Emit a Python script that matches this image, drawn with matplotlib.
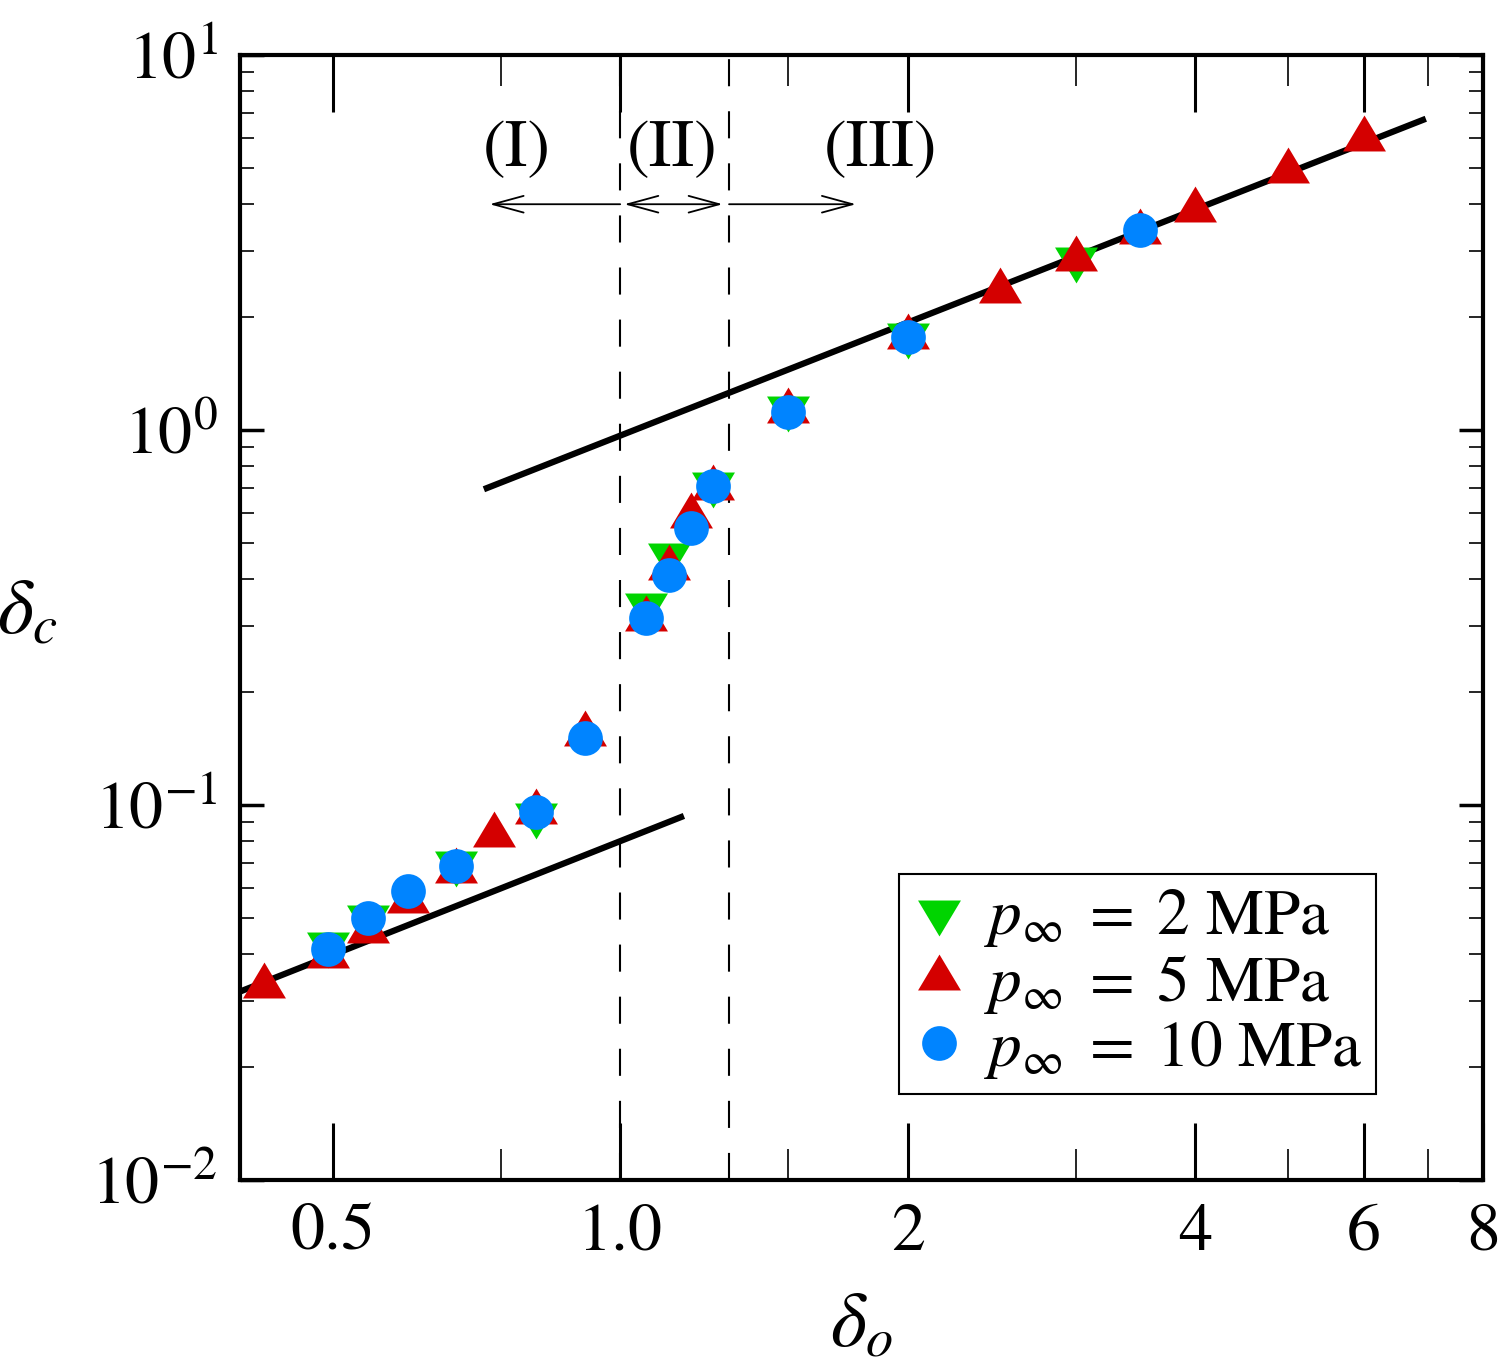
import matplotlib
matplotlib.use("Agg")
import matplotlib.pyplot as plt
from matplotlib.path import Path
import numpy as np

plt.rcParams['font.family'] = ['STIXGeneral', 'DejaVu Serif']
plt.rcParams['mathtext.fontset'] = 'stix'

# ---- data ----
x_2mpa = [0.495, 0.544, 0.673, 0.817, 1.065, 1.125, 1.251, 1.5, 2.0, 3.0]
y_2mpa = [0.0426, 0.0503, 0.0700, 0.0940, 0.341, 0.464, 0.718, 1.145, 1.79, 2.86]

x_5mpa = [0.424, 0.495, 0.544, 0.599, 0.673, 0.738, 0.817, 0.919, 1.065, 1.125,
          1.186, 1.251, 1.5, 2.0, 2.5, 3.0, 3.5, 4.0, 5.0, 6.0]
y_5mpa = [0.0329, 0.0396, 0.0461, 0.0555, 0.0667, 0.0832, 0.0958, 0.1546, 0.313, 0.4285,
          0.590, 0.700, 1.124, 1.77, 2.35, 2.86, 3.37, 3.86, 4.91, 5.97]

x_10mpa = [0.495, 0.544, 0.599, 0.673, 0.817, 0.919, 1.065, 1.125, 1.186, 1.251, 1.5, 2.0, 3.5]
y_10mpa = [0.0413, 0.0500, 0.0590, 0.0688, 0.0958, 0.1509, 0.315, 0.4105, 0.548, 0.709, 1.117, 1.77, 3.41]

upper_line_x = [0.72, 6.97]
upper_line_y = [0.695, 6.76]
lower_line_x = [0.40, 1.166]
lower_line_y = [0.0318, 0.0935]

regime_bounds = [1.0, 1.3]
arrow_y = 4.0
arrow_I = (1.0, 0.73)
arrow_II = (1.01, 1.28)
arrow_III = (1.30, 1.765)
region_labels = ['(I)', '(II)', '(III)']
region_label_x = [0.78, 1.133, 1.874]
region_label_y = 5.55

x_major = [0.5, 1.0, 2, 4, 6, 8]
x_major_labels = ['0.5', '1.0', '2', '4', '6', '8']
x_minor = [0.75, 1.5, 3, 5, 7]
y_major = [0.01, 0.1, 1, 10]
y_major_labels = [r'$10^{-2}$', r'$10^{-1}$', r'$10^{0}$', r'$10^{1}$']

labels = [r'$p_\infty \;=\; 2\ \mathrm{MPa}$', r'$p_\infty \;=\; 5\ \mathrm{MPa}$',
          r'$p_\infty \;=\; 10\ \mathrm{MPa}$']
c_green, c_red, c_blue = '#00d400', '#d40000', '#0084ff'

# equilateral-ish triangles centered on centroid
up_tri = Path([(0, 24), (-21.5, -12), (21.5, -12), (0, 24)],
              [Path.MOVETO, Path.LINETO, Path.LINETO, Path.CLOSEPOLY])
down_tri = Path([(0, -24), (-21.5, 12), (21.5, 12), (0, -24)],
                [Path.MOVETO, Path.LINETO, Path.LINETO, Path.CLOSEPOLY])
tri_ms = 34.5

fig = plt.figure(figsize=(15.01, 13.66), dpi=100)
ax = fig.add_axes([240/1501, 1 - 1180/1366, 1243/1501, 1125/1366])
ax.set_xscale('log')
ax.set_yscale('log')
ax.set_xlim(0.4, 8)
ax.set_ylim(0.01, 10)

ax.plot(upper_line_x, upper_line_y, color='black', lw=4.5, solid_capstyle='butt', zorder=2)
ax.plot(lower_line_x, lower_line_y, color='black', lw=4.5, solid_capstyle='butt', zorder=2)

for xb in regime_bounds:
    ax.axvline(xb, color='black', lw=1.5, ls=(0, (13, 12)), zorder=1)

h2, = ax.plot(x_2mpa, y_2mpa, ls='none', marker=down_tri, ms=tri_ms, color=c_green, mec='none', zorder=3)
h5, = ax.plot(x_5mpa, y_5mpa, ls='none', marker=up_tri, ms=tri_ms, color=c_red, mec='none', zorder=4)
h10, = ax.plot(x_10mpa, y_10mpa, ls='none', marker='o', ms=25, color=c_blue, mec='none', zorder=5)

ap = dict(arrowstyle='->,head_length=1.1,head_width=0.3', lw=1.3, color='black',
          shrinkA=0, shrinkB=0, mutation_scale=20)
ax.annotate('', xy=(arrow_I[1], arrow_y), xytext=(arrow_I[0], arrow_y), arrowprops=ap)
ap2 = dict(ap)
ap2['arrowstyle'] = '<->,head_length=1.1,head_width=0.3'
ax.annotate('', xy=(arrow_II[1], arrow_y), xytext=(arrow_II[0], arrow_y), arrowprops=ap2)
ax.annotate('', xy=(arrow_III[1], arrow_y), xytext=(arrow_III[0], arrow_y), arrowprops=ap)
for lab, lx in zip(region_labels, region_label_x):
    ax.text(lx, region_label_y, lab, ha='center', va='center', fontsize=49)

ax.set_xticks(x_major)
ax.set_xticklabels(x_major_labels)
ax.set_xticks(x_minor, minor=True)
ax.xaxis.set_minor_formatter(matplotlib.ticker.NullFormatter())
ax.set_yticks(y_major)
ax.set_yticklabels(y_major_labels)
ax.yaxis.set_minor_locator(matplotlib.ticker.LogLocator(base=10, subs=np.arange(2, 10)))
ax.yaxis.set_minor_formatter(matplotlib.ticker.NullFormatter())

ax.tick_params(axis='x', which='major', direction='in', length=41, width=2.2, top=True, bottom=True,
               labelsize=49, pad=17)
ax.tick_params(axis='x', which='minor', direction='in', length=22, width=1.2, top=True, bottom=True)
ax.tick_params(axis='y', which='major', direction='in', length=17, width=2.5, left=True, right=True,
               labelsize=49, pad=16)
ax.tick_params(axis='y', which='minor', direction='in', length=10, width=1.2, left=True, right=True)
for s in ax.spines.values():
    s.set_linewidth(3)

ax.set_xlabel(r'$\delta_o$', fontsize=56, labelpad=20)
ax.set_ylabel(r'$\delta_c$', fontsize=56, rotation=0, va='center', ha='center')
ax.yaxis.set_label_coords(-0.171, 0.502)

leg = ax.legend([h2, h5, h10], labels, loc='lower right', bbox_to_anchor=(0.914, 0.0764),
                borderaxespad=0, fontsize=47, frameon=True, fancybox=False, framealpha=1,
                handlelength=0.8, handletextpad=0.3, labelspacing=0.05, borderpad=0.2)
leg.get_frame().set_edgecolor('black')
leg.get_frame().set_linewidth(1.5)

fig.savefig('out.png', dpi=100)
